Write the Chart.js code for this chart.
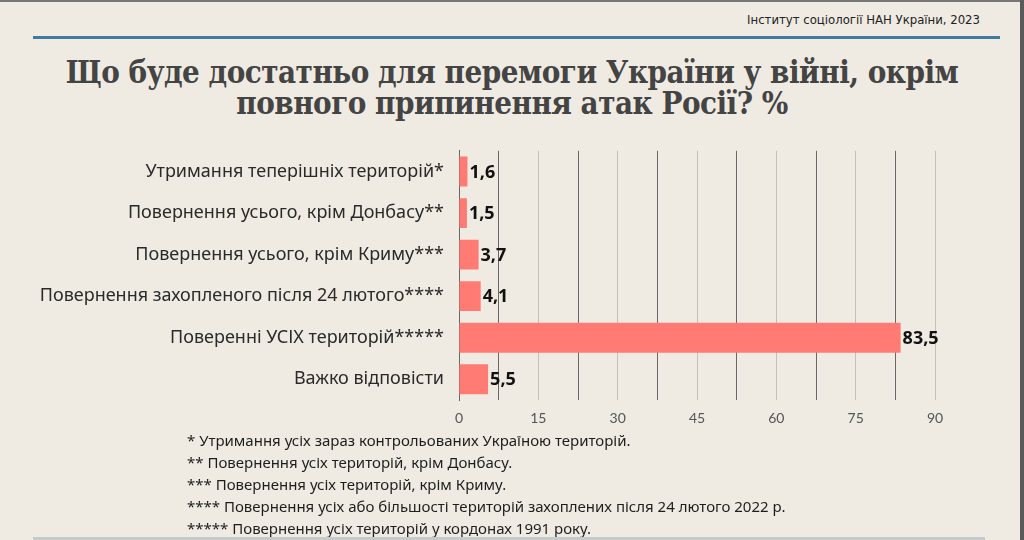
<!DOCTYPE html>
<html>
<head>
<meta charset="utf-8">
<script src="https://cdn.jsdelivr.net/npm/chart.js@4"></script>
<style>
  html, body { margin: 0; padding: 0; }
  body { width: 1024px; height: 540px; background: #efebe2; position: relative; overflow: hidden; font-family: "Noto Sans", Lato, sans-serif; }
  .frame-top { position: absolute; left: 0; top: 0; width: 1024px; height: 2px; background: #777; }
  .frame-right { position: absolute; right: 0; top: 0; width: 4px; height: 540px; background: #5a5a5a; }
  .source { position: absolute; right: 44px; top: 12px; font: 13px "Liberation Sans Narrow", "DejaVu Sans Condensed", sans-serif; color: #222; }
  .rule { position: absolute; left: 33px; top: 36px; width: 967px; height: 3px; background: #3f7c9c; }
  .bottom-rule { position: absolute; left: 33px; top: 537px; width: 952px; height: 3px; background: #c5cbcc; }
  h1 { position: absolute; left: 0; top: 57px; width: 1024px; margin: 0; text-align: center;
       font: bold 31px/31px "DejaVu Serif Condensed", "DejaVu Serif", serif; font-stretch: condensed; color: #444; letter-spacing: -0.5px; }
  .notes { position: absolute; left: 187px; top: 429px; font-size: 15px; color: #1e1e1e; line-height: 22px; }
  #wrap { position: absolute; left: 0; top: 125px; width: 1024px; height: 305px; }
</style>
</head>
<body>
<div class="frame-top"></div>
<div class="frame-right"></div>
<div class="source">Інститут соціології НАН України, 2023</div>
<div class="rule"></div>
<h1>Що буде достатньо для перемоги України у війні, окрім<br>повного припинення атак Росії? %</h1>
<div id="wrap"><canvas id="chart"></canvas></div>
<div class="notes">
  <div>* Утримання усіх зараз контрольованих Україною територій.</div>
  <div>** Повернення усіх територій, крім Донбасу.</div>
  <div>*** Повернення усіх територій, крім Криму.</div>
  <div>**** Повернення усіх або більшості територій захоплених після 24 лютого 2022 р.</div>
  <div>***** Повернення усіх територій у кордонах 1991 року.</div>
</div>
<div class="bottom-rule"></div>
<script>
var categories = [
  "Утримання теперішніх територій*",
  "Повернення усього, крім Донбасу**",
  "Повернення усього, крім Криму***",
  "Повернення захопленого після 24 лютого****",
  "Поверенні УСІХ територій*****",
  "Важко відповісти"
];
var shares = [1.6, 1.5, 3.7, 4.1, 83.5, 5.5];
var xTicks = [0, 15, 30, 45, 60, 75, 90];

var valueLabels = {
  id: 'valueLabels',
  afterDatasetsDraw: function(chart) {
    var ctx = chart.ctx;
    var meta = chart.getDatasetMeta(0);
    ctx.save();
    ctx.font = 'bold 18px "Noto Sans", Lato, sans-serif';
    ctx.fillStyle = '#111';
    ctx.textBaseline = 'middle';
    ctx.textAlign = 'left';
    meta.data.forEach(function(bar, i) {
      ctx.fillText(String(shares[i]).replace('.', ','), bar.x + 2, bar.y + 1);
    });
    ctx.restore();
  }
};

var ctx = document.getElementById("chart");
var chart = new Chart(ctx, {
  type: 'bar',
  data: {
    labels: categories,
    datasets: [{
      data: shares,
      backgroundColor: '#ff7b73',
      borderWidth: 0,
      categoryPercentage: 1,
      barPercentage: 0.72
    }]
  },
  options: {
    indexAxis: 'y',
    responsive: true,
    maintainAspectRatio: false,
    animation: false,
    layout: { padding: { top: 8, right: 89, bottom: 6, left: 0 } },
    plugins: { legend: { display: false }, tooltip: { enabled: false } },
    scales: {
      x: {
        min: 0,
        max: 90,
        afterBuildTicks: function(scale) {
          var t = [];
          for (var v = 0; v <= 90; v += 7.5) t.push({ value: v });
          scale.ticks = t;
        },
        afterFit: function(scale) { scale.height = 24; },
        ticks: {
          autoSkip: false,
          maxRotation: 0,
          padding: 10,
          color: '#555',
          font: { family: 'Lato, "Noto Sans", sans-serif', size: 14 },
          callback: function(v) { return xTicks.indexOf(v) >= 0 ? v : ''; }
        },
        grid: {
          drawTicks: false,
          lineWidth: 1,
          color: function(c) {
            var v = c.tick ? c.tick.value : 0;
            return (v % 15 === 0) ? '#c4c0b8' : '#6b6863';
          }
        },
        border: { display: false }
      },
      y: {
        afterFit: function(scale) { scale.width = 459; },
        ticks: {
          padding: 15,
          color: '#2a2a2a',
          font: { family: '"Noto Sans", Lato, sans-serif', size: 18 }
        },
        grid: { display: false, drawTicks: false },
        border: { display: true, color: '#6b6863', width: 1 }
      }
    }
  },
  plugins: [valueLabels]
});
</script>
</body>
</html>
